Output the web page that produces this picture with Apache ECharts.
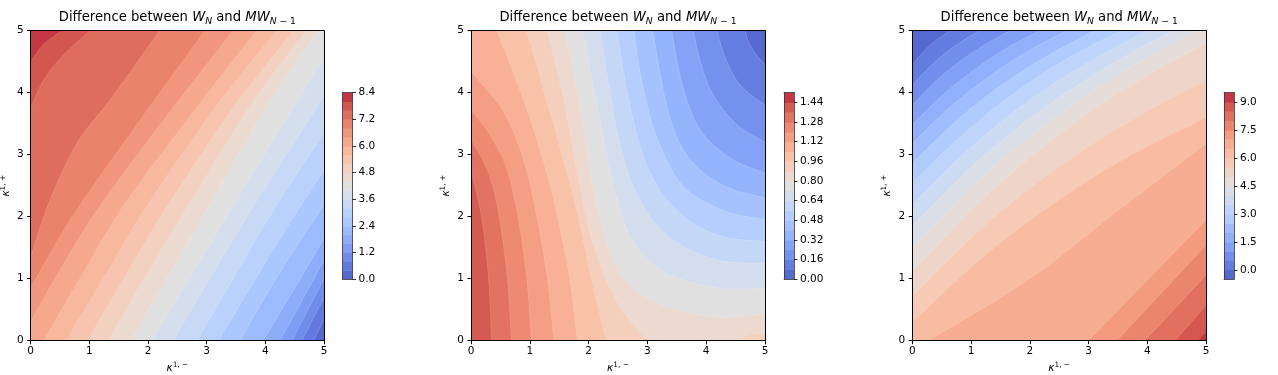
<!DOCTYPE html>
<html>
<head>
<meta charset="utf-8">
<script src="https://cdn.jsdelivr.net/npm/echarts@6.0.0/dist/echarts.min.js"></script>
<style>
html,body{margin:0;padding:0;background:#fff;}
#chart{width:1278px;height:375px;}
</style>
</head>
<body>
<div id="chart"></div>
<script>
// ---------------- data ----------------
const axisTicks = [0, 1, 2, 3, 4, 5];

// panel 1
const p1Levels = [0, 0.4, 0.8, 1.2, 1.6, 2.0, 2.4, 2.8, 3.2, 3.6, 4.0, 4.4, 4.8, 5.2, 5.6, 6.0, 6.4, 6.8, 7.2, 7.6, 8.0, 8.4];
const p1CbTicks = [0, 1.2, 2.4, 3.6, 4.8, 6.0, 7.2, 8.4];
// contour lines [level, [[x,y],...]] ; higher values lie on the left of the travel direction
const p1Lines = [
  [8.0, [[0,4.5],[0.22,4.78],[0.53,5]]],
  [7.6, [[0,3.75],[0.22,4.2],[0.55,4.6],[1.01,5]]],
  [7.2, [[0,1.35],[0.33,2.27],[0.8,3.2],[1.35,3.88],[2.2,5]]],
  [6.8, [[0,0.85],[0.45,1.6],[0.9,2.27],[1.9,3.6],[2.97,5]]],
  [6.4, [[0,0.31],[0.6,1.3],[1.2,2.2],[2.3,3.6],[3.45,5]]],
  [6.0, [[0.22,0],[0.9,1.1],[1.6,2.2],[2.7,3.6],[3.85,5]]],
  [5.6, [[0.6,0],[1.3,1.1],[2.0,2.2],[3.1,3.7],[4.19,5]]],
  [5.2, [[0.97,0],[1.65,1.1],[2.35,2.2],[3.45,3.75],[4.48,5]]],
  [4.8, [[1.32,0],[2.0,1.1],[2.7,2.2],[3.75,3.8],[4.7,5]]],
  [4.4, [[1.7,0],[2.35,1.05],[3.05,2.2],[4.1,3.9],[4.9,5]]],
  [4.0, [[2.06,0],[2.7,1.0],[3.4,2.1],[4.3,3.5],[5,4.55]]],
  [3.6, [[2.43,0],[3.05,1.0],[3.75,2.1],[5,3.95]]],
  [3.2, [[2.83,0],[3.45,1.0],[4.1,2.05],[5,3.35]]],
  [2.8, [[3.2,0],[3.8,0.95],[4.45,1.95],[5,2.75]]],
  [2.4, [[3.57,0],[4.15,0.95],[5,2.2]]],
  [2.0, [[3.96,0],[4.5,0.85],[5,1.65]]],
  [1.6, [[4.25,0],[5,1.3]]],
  [1.2, [[4.45,0],[5,1.0]]],
  [0.8, [[4.62,0],[5,0.7]]],
  [0.4, [[4.82,0],[5,0.35]]]
];

// panel 2
const p2Levels = [0, 0.08, 0.16, 0.24, 0.32, 0.40, 0.48, 0.56, 0.64, 0.72, 0.80, 0.88, 0.96, 1.04, 1.12, 1.20, 1.28, 1.36, 1.44, 1.52];
const p2CbTicks = [0, 0.16, 0.32, 0.48, 0.64, 0.80, 0.96, 1.12, 1.28, 1.44];
const p2Lines = [
  [1.36, [[0.35,0],[0.3,1.0],[0.18,2.0],[0,2.75]]],
  [1.28, [[0.69,0],[0.62,1.0],[0.48,2.0],[0.3,2.7],[0,3.25]]],
  [1.20, [[1.03,0],[0.95,1.0],[0.8,2.0],[0.6,2.8],[0.3,3.35],[0,3.72]]],
  [1.12, [[1.41,0],[1.3,1.0],[1.12,2.0],[0.9,2.9],[0.55,3.7],[0,4.34]]],
  [1.04, [[1.81,0],[1.68,1.0],[1.45,2.1],[1.2,3.0],[0.85,4.0],[0.44,5]]],
  [0.96, [[2.3,0],[2.05,1.0],[1.8,2.1],[1.55,3.0],[1.25,4.0],[0.95,5]]],
  [0.88, [[3.0,0],[2.5,0.6],[2.1,1.5],[1.85,2.5],[1.6,3.8],[1.29,5]]],
  [0.88, [[5,0.12],[4.75,0.1],[4.55,0]]],
  [0.80, [[5,0.43],[4.2,0.38],[3.3,0.55],[2.65,0.95],[2.3,1.6],[2.05,2.6],[1.85,3.8],[1.6,5]]],
  [0.72, [[5,0.85],[4.2,0.85],[3.3,1.1],[2.75,1.6],[2.45,2.4],[2.2,3.5],[1.9,5]]],
  [0.64, [[5,1.25],[4.2,1.3],[3.4,1.65],[2.85,2.3],[2.5,3.3],[2.19,5]]],
  [0.56, [[5,1.6],[4.2,1.7],[3.5,2.1],[3.0,2.8],[2.7,3.8],[2.48,5]]],
  [0.48, [[5,1.95],[4.3,2.1],[3.6,2.5],[3.15,3.3],[2.9,4.2],[2.77,5]]],
  [0.40, [[5,2.3],[4.3,2.5],[3.7,2.95],[3.35,3.7],[3.09,5]]],
  [0.32, [[5,2.7],[4.4,2.95],[3.9,3.4],[3.6,4.1],[3.41,5]]],
  [0.24, [[5,3.2],[4.5,3.5],[4.1,4.0],[3.9,4.5],[3.78,5]]],
  [0.16, [[5,3.8],[4.6,4.1],[4.35,4.5],[4.18,5]]],
  [0.08, [[5,4.45],[4.85,4.62],[4.72,4.82],[4.66,5]]]
];

// panel 3
const p3Levels = [-0.5, 0, 0.5, 1.0, 1.5, 2.0, 2.5, 3.0, 3.5, 4.0, 4.5, 5.0, 5.5, 6.0, 6.5, 7.0, 7.5, 8.0, 8.5, 9.0, 9.5];
const p3CbTicks = [0, 1.5, 3.0, 4.5, 6.0, 7.5, 9.0];
const p3Lines = [
  [0.0, [[0.64,5],[0.48,4.9],[0.32,4.78],[0.16,4.63],[0,4.45]]],
  [0.5, [[1.15,5],[0.86,4.84],[0.58,4.65],[0.29,4.41],[0,4.12]]],
  [1.0, [[1.66,5],[1.25,4.78],[0.83,4.52],[0.42,4.2],[0,3.8]]],
  [1.5, [[2.17,5],[1.63,4.73],[1.09,4.39],[0.54,3.98],[0,3.48]]],
  [2.0, [[2.63,5],[1.97,4.67],[1.32,4.27],[0.66,3.78],[0,3.18]]],
  [2.5, [[3.1,5],[2.33,4.61],[1.55,4.14],[0.78,3.57],[0,2.86]]],
  [3.0, [[3.55,5],[2.66,4.56],[1.78,4.02],[0.89,3.35],[0,2.54]]],
  [3.5, [[4.0,5],[3.0,4.49],[2.0,3.88],[1.0,3.12],[0,2.19]]],
  [4.0, [[4.45,5],[3.34,4.43],[2.23,3.74],[1.11,2.89],[0,1.85]]],
  [4.5, [[4.85,5],[3.64,4.37],[2.43,3.6],[1.21,2.66],[0,1.5]]],
  [5.0, [[5,4.8],[3.75,4.14],[2.5,3.33],[1.25,2.33],[0,1.12]]],
  [5.5, [[5,4.2],[3.75,3.57],[2.5,2.81],[1.25,1.87],[0,0.72]]],
  [6.0, [[5,3.6],[3.75,3.01],[2.5,2.28],[1.25,1.39],[0,0.3]]],
  [6.5, [[5,3.18],[3.5,2.1],[2.0,1.0],[0.27,0]]],
  [7.0, [[5,1.95],[3.0,0]]],
  [7.5, [[5,1.54],[3.48,0]]],
  [8.0, [[5,1.06],[3.96,0]]],
  [8.5, [[5,0.57],[4.47,0]]],
  [9.0, [[5,0.15],[4.85,0]]]
];

// ---------------- colours ----------------
const coolwarmLUT = [
[0.2298057,0.298717966,0.753683153],[0.26623388,0.353094838,0.801466763],[0.30386891,0.406535296,0.84495867],
[0.342804478,0.458757618,0.883725899],[0.38301334,0.50941904,0.917387822],[0.424369608,0.558148092,0.945619588],
[0.46666708,0.604562568,0.968154911],[0.509635204,0.648280772,0.98478814],[0.552953156,0.688929332,0.995375608],
[0.596262162,0.726149107,0.999836203],[0.639176211,0.759599947,0.998151185],[0.681291281,0.788964712,0.990363227],
[0.722193294,0.813952739,0.976574709],[0.761464949,0.834302879,0.956945269],[0.798691636,0.849786142,0.931688648],
[0.833466556,0.860207984,0.901068838],[0.865395197,0.86541021,0.865395561],[0.897787179,0.848937047,0.820880546],
[0.924127593,0.827384882,0.774508472],[0.944468518,0.800927443,0.726736325],[0.958852946,0.769767752,0.678007945],
[0.96732803,0.734132809,0.628751763],[0.969954137,0.694266682,0.579375448],[0.966811177,0.650421156,0.530263762],
[0.958003065,0.602842431,0.481775914],[0.943660866,0.551750968,0.434243684],[0.923944917,0.49730856,0.387970225],
[0.89904617,0.439559467,0.343229596],[0.869186849,0.378313092,0.300267182],[0.834620542,0.312874446,0.259301199],
[0.795631745,0.24128379,0.220525627],[0.752534934,0.157246067,0.184115123],[0.705673158,0.01555616,0.150232812]];
const ALPHA = 0.9;
function coolwarm(t){
  t = Math.max(0, Math.min(1, t));
  const f = t * 32, i = Math.min(31, Math.floor(f)), u = f - i;
  const a = coolwarmLUT[i], b = coolwarmLUT[i+1];
  const c = [0,1,2].map(j => a[j] + (b[j]-a[j])*u);
  const m = c.map(v => Math.round(255*(ALPHA*v + (1-ALPHA))));
  return 'rgb(' + m.join(',') + ')';
}
function bandColor(levels, k){ return coolwarm((k + 0.5) / (levels.length - 1)); }
function levelIndex(levels, v){
  let best = 0;
  levels.forEach((l, i) => { if (Math.abs(l - v) < Math.abs(levels[best] - v)) best = i; });
  return best;
}

// ---------------- contour geometry (rendering helpers) ----------------
const XMIN = 0, XMAX = 5, YMIN = 0, YMAX = 5, EPS = 1e-6;
// smooth curve through the read points (Catmull-Rom), used only for drawing
function smoothPath(pts){
  if (pts.length < 3) return pts.slice();
  const out = [pts[0]];
  for (let i = 0; i < pts.length - 1; i++) {
    const p0 = pts[Math.max(0, i-1)], p1 = pts[i], p2 = pts[i+1], p3 = pts[Math.min(pts.length-1, i+2)];
    for (let s = 1; s <= 10; s++) {
      const t = s / 10, t2 = t*t, t3 = t2*t;
      const q = [0,1].map(j => 0.5*((2*p1[j]) + (-p0[j]+p2[j])*t + (2*p0[j]-5*p1[j]+4*p2[j]-p3[j])*t2 + (-p0[j]+3*p1[j]-3*p2[j]+p3[j])*t3));
      out.push(q);
    }
  }
  return out;
}
function perim(p){
  const [x, y] = p;
  if (Math.abs(y - YMIN) < EPS && x < XMAX - EPS) return x - XMIN;
  if (Math.abs(x - XMAX) < EPS && y < YMAX - EPS) return 5 + (y - YMIN);
  if (Math.abs(y - YMAX) < EPS && x > XMIN + EPS) return 10 + (XMAX - x);
  return 15 + (YMAX - y);
}
const corners = [[XMAX,YMIN],[XMAX,YMAX],[XMIN,YMAX],[XMIN,YMIN]];
function superPolygon(pts){
  const out = smoothPath(pts);
  let t1 = perim(pts[pts.length-1]), t2 = perim(pts[0]);
  if (t2 <= t1) t2 += 20;
  for (let c = 5; c < 45; c += 5) {
    if (c > t1 + EPS && c < t2 - EPS) out.push(corners[((c/5 - 1) % 4 + 4) % 4]);
  }
  return out;
}

const panels = [
  {levels: p1Levels, lines: p1Lines, cb: p1CbTicks, dec: 1, left: 30.7, width: 293.3, cbLeft: 342.5},
  {levels: p2Levels, lines: p2Lines, cb: p2CbTicks, dec: 2, left: 471, width: 294, cbLeft: 784},
  {levels: p3Levels, lines: p3Lines, cb: p3CbTicks, dec: 1, left: 912.3, width: 293.7, cbLeft: 1224}
];
const PLOT_TOP = 30.7, PLOT_H = 310, CB_TOP = 92.6, CB_H = 186.6, CB_W = 10;
const FONT = 'DejaVu Sans';

const grids = [], xAxes = [], yAxes = [], series = [], graphics = [];
const frameAxis = (extra) => Object.assign({
  type: 'value', min: 0, max: 5, z: 10,
  axisLine: {show: true, onZero: false, lineStyle: {color: '#000', width: 1}},
  axisTick: {show: false}, axisLabel: {show: false}, splitLine: {show: false}
}, extra);
const nameStyle = {fontFamily: FONT, color: '#000', fontSize: 10.5, lineHeight: 14,
  rich: {k: {fontSize: 10.5, fontStyle: 'italic', fontFamily: FONT, color: '#000', lineHeight: 14},
         s: {fontSize: 7.4, fontFamily: FONT, color: '#000', lineHeight: 8, verticalAlign: 'top'}}};

panels.forEach((P, pi) => {
  const g = grids.length;
  grids.push({left: P.left, top: PLOT_TOP, width: P.width, height: PLOT_H, containLabel: false, outerBoundsMode: 'none'});
  const xa = xAxes.length, ya = yAxes.length;
  xAxes.push({
    gridIndex: g, type: 'value', min: 0, max: 5, interval: 1, position: 'bottom', z: 10,
    axisLine: {show: true, onZero: false, lineStyle: {color: '#000', width: 1}},
    axisTick: {show: true, length: 3.5, lineStyle: {color: '#000', width: 1}},
    axisLabel: {fontSize: 10.5, color: '#000', fontFamily: FONT, margin: 5, customValues: axisTicks},
    splitLine: {show: false},
    name: '{k|κ}{s|1, −}', nameLocation: 'middle', nameGap: 20, nameTextStyle: nameStyle
  });
  xAxes.push(frameAxis({gridIndex: g, position: 'top'}));
  yAxes.push({
    gridIndex: g, type: 'value', min: 0, max: 5, interval: 1, position: 'left', z: 10,
    axisLine: {show: true, onZero: false, lineStyle: {color: '#000', width: 1}},
    axisTick: {show: true, length: 3.5, lineStyle: {color: '#000', width: 1}},
    axisLabel: {fontSize: 10.5, color: '#000', fontFamily: FONT, margin: 7, customValues: axisTicks},
    splitLine: {show: false},
    name: '{k|κ}{s|1, +}', nameLocation: 'middle', nameGap: 13, nameRotate: 90, nameTextStyle: nameStyle
  });
  yAxes.push(frameAxis({gridIndex: g, position: 'right'}));

  // filled contours
  const sorted = P.lines.map(l => [levelIndex(P.levels, l[0]), l[1]]).sort((a, b) => a[0] - b[0]);
  const items = [[-1, null]].concat(sorted);
  series.push({
    type: 'custom', coordinateSystem: 'cartesian2d', xAxisIndex: xa, yAxisIndex: ya,
    clip: true, silent: true, z: 2,
    data: items.map(() => [2.5, 2.5]),
    renderItem: function (params, api) {
      const it = items[params.dataIndex];
      let poly, k;
      if (it[0] < 0) { poly = [[XMIN,YMIN],[XMAX,YMIN],[XMAX,YMAX],[XMIN,YMAX]]; k = 0; }
      else { poly = superPolygon(it[1]); k = it[0]; }
      const col = bandColor(P.levels, k);
      return {type: 'polygon', shape: {points: poly.map(p => api.coord(p))},
        style: {fill: col, stroke: col, lineWidth: 0.3}};
    }
  });
  // faint seams along contour lines
  series.push({
    type: 'custom', coordinateSystem: 'cartesian2d', xAxisIndex: xa, yAxisIndex: ya,
    clip: true, silent: true, z: 3,
    data: sorted.map(() => [2.5, 2.5]),
    renderItem: function (params, api) {
      const pts = smoothPath(sorted[params.dataIndex][1]);
      return {type: 'polyline', shape: {points: pts.map(p => api.coord(p))},
        style: {stroke: '#ffffff', opacity: 0.3, lineWidth: 0.6, fill: null}};
    }
  });

  // colorbar
  const cg = grids.length;
  grids.push({left: P.cbLeft, top: CB_TOP, width: CB_W, height: CB_H, containLabel: false, outerBoundsMode: 'none'});
  const L0 = P.levels[0], L1 = P.levels[P.levels.length - 1];
  const cxa = xAxes.length, cya = yAxes.length;
  const cbLine = {show: true, onZero: false, lineStyle: {color: '#333', width: 0.8}};
  xAxes.push({gridIndex: cg, type: 'value', min: 0, max: 1, position: 'bottom', z: 10,
    axisLine: cbLine, axisTick: {show: false}, axisLabel: {show: false}, splitLine: {show: false}});
  xAxes.push({gridIndex: cg, type: 'value', min: 0, max: 1, position: 'top', z: 10,
    axisLine: cbLine, axisTick: {show: false}, axisLabel: {show: false}, splitLine: {show: false}});
  yAxes.push({gridIndex: cg, type: 'value', min: L0, max: L1, position: 'right', z: 10,
    axisLine: cbLine,
    axisTick: {show: true, length: 3.5, lineStyle: {color: '#000', width: 0.8}, customValues: P.cb},
    axisLabel: {fontSize: 10.5, color: '#000', fontFamily: FONT, margin: 6, customValues: P.cb,
      formatter: v => Number(v).toFixed(P.dec)},
    splitLine: {show: false}});
  yAxes.push({gridIndex: cg, type: 'value', min: L0, max: L1, position: 'left', z: 10,
    axisLine: cbLine, axisTick: {show: false}, axisLabel: {show: false}, splitLine: {show: false}});
  const bands = P.levels.slice(0, -1).map((l, k) => k);
  series.push({
    type: 'custom', coordinateSystem: 'cartesian2d', xAxisIndex: cxa, yAxisIndex: cya,
    silent: true, z: 2, clip: true,
    data: bands.map(k => [0.5, (P.levels[k] + P.levels[k+1]) / 2]),
    renderItem: function (params, api) {
      const k = bands[params.dataIndex];
      const a = api.coord([0, P.levels[k]]), b = api.coord([1, P.levels[k+1]]);
      return {type: 'rect', shape: {x: a[0], y: b[1], width: b[0] - a[0], height: a[1] - b[1] + 0.5},
        style: {fill: bandColor(P.levels, k)}};
    }
  });

  // title
  graphics.push({
    type: 'text', x: P.left + P.width / 2, y: 18, z: 20,
    style: {
      text: '{n|Difference between }{i|W}{s|N}{n| and }{i|MW}{s|N}{u| − 1}',
      align: 'center', verticalAlign: 'middle', fill: '#000', font: '13.2px "DejaVu Sans"',
      rich: {
        n: {fontSize: 13.2, fontFamily: FONT, fill: '#000', lineHeight: 16},
        i: {fontSize: 13.2, fontFamily: FONT, fontStyle: 'italic', fill: '#000', lineHeight: 16},
        s: {fontSize: 9.2, fontFamily: FONT, fontStyle: 'italic', fill: '#000', lineHeight: 9, verticalAlign: 'bottom'},
        u: {fontSize: 9.2, fontFamily: FONT, fill: '#000', lineHeight: 9, verticalAlign: 'bottom'}
      }
    }
  });
});

const chart = echarts.init(document.getElementById('chart'), null, {renderer: 'canvas'});
chart.setOption({
  animation: false,
  backgroundColor: '#fff',
  grid: grids, xAxis: xAxes, yAxis: yAxes, series: series, graphic: graphics
});
</script>
</body>
</html>
